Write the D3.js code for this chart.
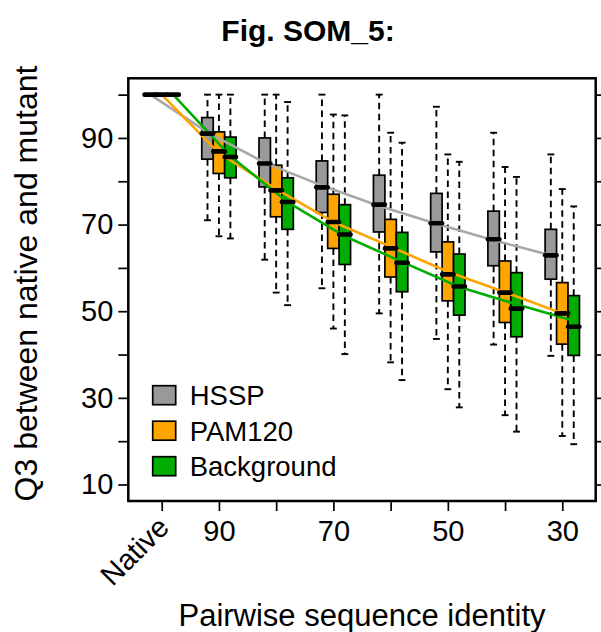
<!DOCTYPE html>
<html>
<head>
<meta charset="utf-8">
<script src="https://cdn.jsdelivr.net/npm/d3@7"></script>
<style>
  body { margin: 0; background: #fff; }
  svg { display: block; font-family: "Liberation Sans", Arial, Helvetica, sans-serif; }
</style>
</head>
<body>
<div id="chart"></div>
<script>
// Groups along the x axis (pairwise identity, Native = 100)
const identity = [100, 90, 80, 70, 60, 50, 40, 30];
const tickLabels = ["Native", "90", "", "70", "", "50", "", "30"];
const yTicks = [10, 20, 30, 40, 50, 60, 70, 80, 90, 100];
const yLabels = [10, 30, 50, 70, 90];

const seriesNames = ["HSSP", "PAM120", "Background"];
const boxColors = ["#999999", "#ffa500", "#00ad00"];
const lineColors = ["#a8a8a8", "#ffa500", "#00ad00"];
const offsets = [2, 0, -2];

// [lower whisker, q1, median, q3, upper whisker] per group
const hsspStats = [
  [100, 100, 100, 100, 100],
  [71.0, 85.1, 91.0, 94.7, 100],
  [61.9, 78.7, 84.1, 90.0, 100],
  [55.3, 72.8, 78.6, 84.7, 100],
  [49.5, 68.3, 74.6, 81.4, 100],
  [43.6, 63.7, 70.3, 77.2, 97.2],
  [42.3, 60.5, 66.6, 73.1, 91.2],
  [39.7, 57.4, 62.9, 68.9, 86.2]
];
const pamStats = [
  [100, 100, 100, 100, 100],
  [67.3, 81.8, 86.9, 91.4, 100],
  [54.3, 71.8, 77.9, 83.7, 100],
  [46.0, 64.5, 70.6, 77.0, 95.4],
  [38.2, 57.9, 64.5, 71.2, 91.2],
  [32.0, 52.4, 58.5, 66.0, 86.2],
  [26.0, 47.4, 54.3, 61.6, 83.3],
  [21.2, 42.4, 49.5, 56.6, 78.2]
];
const bgStats = [
  [100, 100, 100, 100, 100],
  [66.8, 80.8, 85.6, 90.2, 100],
  [51.4, 68.9, 75.2, 80.8, 98.3],
  [40.1, 60.8, 67.7, 74.6, 95.2],
  [34.1, 54.5, 61.2, 68.2, 88.9],
  [27.8, 49.1, 55.7, 63.2, 84.5],
  [22.2, 44.1, 50.6, 58.9, 81.0],
  [19.3, 39.8, 46.4, 53.6, 74.2]
];

// fitted trend curves, value at each group
const hsspTrend = [100, 91.3, 84.3, 79.0, 74.3, 70.2, 66.4, 62.9];
const pamTrend = [100, 86.5, 78.2, 70.6, 64.9, 59.1, 54.4, 49.5];
const bgTrend = [100, 85.8, 75.2, 67.3, 61.4, 55.6, 51.6, 47.8];

const allStats = [hsspStats, pamStats, bgStats];
const allTrends = [hsspTrend, pamTrend, bgTrend];

const W = 601, H = 632;
const frame = { left: 128.3, right: 595.7, top: 78.3, bottom: 501 };

const svg = d3.select("#chart").append("svg").attr("width", W).attr("height", H);

const x = d3.scaleLinear().domain([105.84, 24.16]).range([frame.left, frame.right]);
const y = d3.scaleLinear().domain([6.19, 103.77]).range([frame.bottom, frame.top]);
const halfBox = 1.0, halfStaple = 0.6;

// boxes, one flat record per box
const boxes = [];
allStats.forEach((stats, s) => stats.forEach((st, i) => {
  boxes.push({ s, pos: identity[i] + offsets[s], lo: st[0], q1: st[1], med: st[2], q3: st[3], hi: st[4] });
}));

const gWhisk = svg.append("g");
gWhisk.selectAll("line.up").data(boxes).join("line")
  .attr("x1", d => x(d.pos)).attr("x2", d => x(d.pos))
  .attr("y1", d => y(d.q3)).attr("y2", d => y(d.hi))
  .attr("stroke", "#000").attr("stroke-width", 1.9).attr("stroke-dasharray", "6.5,4.5");
gWhisk.selectAll("line.dn").data(boxes).join("line")
  .attr("x1", d => x(d.pos)).attr("x2", d => x(d.pos))
  .attr("y1", d => y(d.q1)).attr("y2", d => y(d.lo))
  .attr("stroke", "#000").attr("stroke-width", 1.9).attr("stroke-dasharray", "6.5,4.5");
gWhisk.selectAll("path.staple").data(boxes.flatMap(d => [[d.pos, d.lo], [d.pos, d.hi]])).join("line")
  .attr("x1", d => x(d[0] + halfStaple)).attr("x2", d => x(d[0] - halfStaple))
  .attr("y1", d => y(d[1])).attr("y2", d => y(d[1]))
  .attr("stroke", "#000").attr("stroke-width", 1.9);

svg.append("g").selectAll("rect").data(boxes).join("rect")
  .attr("x", d => x(d.pos + halfBox))
  .attr("width", d => x(d.pos - halfBox) - x(d.pos + halfBox))
  .attr("y", d => y(d.q3))
  .attr("height", d => y(d.q1) - y(d.q3))
  .attr("fill", d => boxColors[d.s])
  .attr("stroke", "#000").attr("stroke-width", 1.7);

// trend curves
const line = d3.line().x(d => x(d[0])).y(d => y(d[1]));
svg.append("g").selectAll("path").data(allTrends.map((t, s) => ({ s, pts: t.map((v, i) => [identity[i] + offsets[s], v]) })))
  .join("path")
  .attr("d", d => line(d.pts))
  .attr("fill", "none")
  .attr("stroke", d => lineColors[d.s])
  .attr("stroke-width", 2.6)
  .attr("stroke-linejoin", "round");

// medians
svg.append("g").selectAll("line").data(boxes).join("line")
  .attr("x1", d => x(d.pos + halfBox)).attr("x2", d => x(d.pos - halfBox))
  .attr("y1", d => y(d.med)).attr("y2", d => y(d.med))
  .attr("stroke", "#000").attr("stroke-width", 4.6).attr("stroke-linecap", "round");

// frame
svg.append("rect")
  .attr("x", frame.left).attr("y", frame.top)
  .attr("width", frame.right - frame.left).attr("height", frame.bottom - frame.top)
  .attr("fill", "none").attr("stroke", "#000").attr("stroke-width", 2.5);

// left axis
const gY = svg.append("g").attr("transform", `translate(${frame.left},0)`)
  .call(d3.axisLeft(y).tickValues(yTicks).tickSize(10).tickPadding(5)
    .tickFormat(d => yLabels.includes(d) ? d : ""));
gY.select(".domain").remove();
gY.selectAll(".tick line").attr("stroke-width", 1.7);
gY.selectAll(".tick text").attr("font-size", 29).attr("font-family", null).attr("fill", "#000");

// right axis ticks only
const gR = svg.append("g").attr("transform", `translate(${frame.right},0)`)
  .call(d3.axisRight(y).tickValues(yTicks).tickSize(10).tickFormat(""));
gR.select(".domain").remove();
gR.selectAll(".tick line").attr("stroke-width", 1.7);

// bottom axis
const gX = svg.append("g").attr("transform", `translate(0,${frame.bottom})`)
  .call(d3.axisBottom(x).tickValues(identity).tickSize(10).tickPadding(9)
    .tickFormat((d, i) => i === 0 ? "" : tickLabels[i]));
gX.select(".domain").remove();
gX.selectAll(".tick line").attr("stroke-width", 1.7);
gX.selectAll(".tick text").attr("font-size", 29).attr("font-family", null).attr("fill", "#000");

svg.append("text")
  .attr("transform", `translate(${x(identity[0]) + 9},${frame.bottom + 28}) rotate(-45)`)
  .attr("text-anchor", "end").attr("font-size", 29)
  .text(tickLabels[0]);

// legend
const lg = svg.append("g").attr("transform", "translate(152.7,385.7)");
const items = lg.selectAll("g").data(seriesNames).join("g")
  .attr("transform", (d, i) => `translate(0,${i * 35.5})`);
items.append("rect").attr("width", 23).attr("height", 19)
  .attr("fill", (d, i) => boxColors[i]).attr("stroke", "#000").attr("stroke-width", 1.7);
items.append("text").attr("x", 37).attr("y", 19.5).attr("font-size", 27.5).text(d => d);

// titles
svg.append("text").attr("x", 308).attr("y", 41).attr("text-anchor", "middle")
  .attr("font-size", 30).attr("font-weight", "bold").text("Fig. SOM_5:");
svg.append("text").attr("x", 362).attr("y", 626).attr("text-anchor", "middle")
  .attr("font-size", 31).text("Pairwise sequence identity");
svg.append("text").attr("transform", "translate(37,283.5) rotate(-90)")
  .attr("text-anchor", "middle").attr("font-size", 32).text("Q3 between native and mutant");
</script>
</body>
</html>
